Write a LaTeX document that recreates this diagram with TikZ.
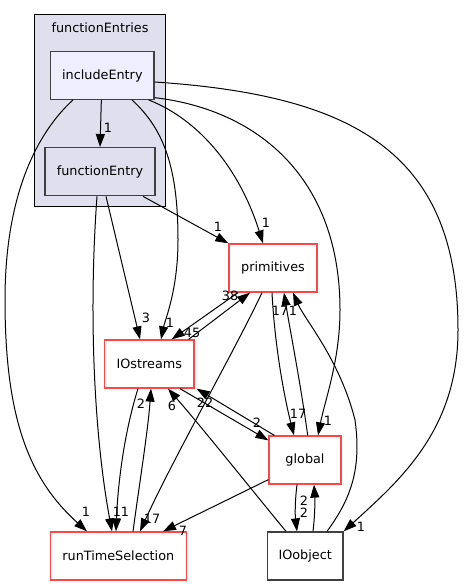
\documentclass[tikz,border=0pt]{standalone}
\usepackage{fontspec}
\setmainfont{DejaVu Sans}
\usetikzlibrary{arrows.meta}
\definecolor{doxred}{RGB}{255,70,70}
\definecolor{doxgrey}{RGB}{64,64,64}
\definecolor{clfill}{RGB}{223,223,237}
\definecolor{incfill}{RGB}{238,238,255}
\tikzset{
  every node/.style={font=\fontsize{12.8}{15}\selectfont, inner sep=0pt},
  dirbox/.style={draw=doxgrey, line width=1.3pt, minimum height=48pt},
  redbox/.style={draw=doxred, line width=1.3pt, fill=white, minimum height=48pt},
  edge/.style={draw=black, line width=1pt, -{Triangle[length=13pt,width=9pt]}},
  lbl/.style={font=\fontsize{12.8}{15}\selectfont}
}
\begin{document}
\begin{tikzpicture}[x=1pt,y=-1pt]
\useasboundingbox (0,0) rectangle (464,585);
% cluster
\node[draw=black, line width=1pt, fill=clfill, minimum width=131pt, minimum height=191.7pt] (cluster) at (99.8,110.85) {};
\node (clusterlabel) at (100,28) {functionEntries};
% nodes
\node[dirbox, fill=incfill, minimum width=103.3pt, minimum height=47.6pt] (includeEntry) at (102.35,75.5) {includeEntry};
\node[dirbox, fill=clfill, minimum width=110pt] (functionEntry) at (100,171.7) {functionEntry};
\node[redbox, minimum width=88pt] (primitives) at (273,268) {primitives};
\node[redbox, minimum width=89.3pt] (IOstreams) at (149.3,364) {IOstreams};
\node[redbox, minimum width=72pt] (global) at (305,460) {global};
\node[redbox, minimum width=136pt] (runTimeSelection) at (118.3,556) {runTimeSelection};
\node[dirbox, fill=white, minimum width=75.7pt] (IOobject) at (305.2,556) {IOobject};
% edges
\draw[edge] ([xshift=-1pt]includeEntry.south) -- (functionEntry.north);
\draw[edge] ([xshift=-29.35pt]includeEntry.south) .. controls (40,130) and (5,190) .. (5,300) .. controls (5,420) and (30,480) .. ([xshift=-31.3pt]runTimeSelection.north);
\draw[edge] ([xshift=29.65pt]includeEntry.south) .. controls (165,130) and (178,170) .. (178,240) .. controls (178,290) and (165,320) .. ([xshift=11.7pt]IOstreams.north);
\draw[edge] ([xshift=-6pt]includeEntry.south east) .. controls (200,120) and (240,170) .. ([xshift=-10pt]primitives.north);
\draw[edge] ([yshift=2.3pt]includeEntry.south east) .. controls (260,110) and (340,180) .. (340,310) .. controls (340,360) and (325,400) .. ([xshift=13pt]global.north);
\draw[edge] ([yshift=-6.5pt]includeEntry.east) .. controls (350,95) and (458,150) .. (458,330) .. controls (458,430) and (400,480) .. (IOobject.north east);
\draw[edge] ([xshift=6pt]functionEntry.south) -- ([xshift=-9.3pt]IOstreams.north);
\draw[edge] ([xshift=-3pt]functionEntry.south) .. controls (88,320) and (95,440) .. ([xshift=-6.3pt]runTimeSelection.north);
\draw[edge] ([xshift=43pt]functionEntry.south) -- (primitives.north west);
\draw[edge] ([xshift=-11.3pt]IOstreams.south) .. controls (125,430) and (118,480) .. ([xshift=-2.3pt]runTimeSelection.north);
\draw[edge] ([xshift=14.7pt]runTimeSelection.north) .. controls (140,480) and (148,430) .. ([xshift=1.7pt]IOstreams.south);
\draw[edge] ([xshift=-11pt]primitives.south) .. controls (235,350) and (175,455) .. ([xshift=21.7pt]runTimeSelection.north);
\draw[edge] ([xshift=-6pt]IOstreams.north east) -- ([xshift=-23pt]primitives.south);
\draw[edge] ([xshift=-35pt]primitives.south) -- ([xshift=22.4pt]IOstreams.north);
\draw[edge] ([xshift=-1pt]primitives.south) .. controls (275,350) and (285,400) .. ([xshift=-11pt]global.north);
\draw[edge] ([xshift=2.7pt]global.north) .. controls (300,380) and (290,330) .. ([xshift=11pt]primitives.south);
\draw[edge] ([xshift=21.8pt]IOobject.north) .. controls (350,500) and (362,470) .. (355,420) .. controls (340,360) and (305,320) .. ([xshift=20pt]primitives.south);
\draw[edge] ([xshift=30.7pt]IOstreams.south) -- ([yshift=-5pt]global.north west);
\draw[edge] ([xshift=6pt]global.north west) -- ([xshift=2pt]IOstreams.south east);
\draw[edge] ([xshift=-19.2pt]IOobject.north) .. controls (260,500) and (200,425) .. ([xshift=18.7pt]IOstreams.south);
\draw[edge] ([xshift=-8pt]global.south) .. controls (295,500) and (295,515) .. ([xshift=-8.2pt]IOobject.north);
\draw[edge] ([xshift=7.8pt]IOobject.north) .. controls (315,515) and (315,500) .. ([xshift=9pt]global.south);
\draw[edge] ([yshift=5pt]global.south west) -- ([xshift=44.7pt]runTimeSelection.north);
% labels
\node[lbl] (l1) at (108,128) {1};
\node[lbl] (l2) at (86,512) {1};
\node[lbl] (l3) at (170,323) {1};
\node[lbl] (l4) at (146,318) {3};
\node[lbl] (l5) at (117,512) {1};
\node[lbl] (l6) at (125,512) {1};
\node[lbl] (l7) at (141,404) {2};
\node[lbl] (l8) at (152,519) {17};
\node[lbl] (l9) at (218,227) {1};
\node[lbl] (l10) at (266,223) {1};
\node[lbl] (l11) at (328,421) {1};
\node[lbl] (l12) at (361,527) {1};
\node[lbl] (l13) at (230,296) {38};
\node[lbl] (l14) at (192,333) {45};
\node[lbl] (l15) at (298,414) {17};
\node[lbl] (l16) at (280,311) {17};
\node[lbl] (l17) at (293,311) {1};
\node[lbl] (l18) at (257,423) {2};
\node[lbl] (l19) at (205,403) {22};
\node[lbl] (l20) at (172,406) {6};
\node[lbl] (l21) at (304,501) {2};
\node[lbl] (l22) at (304,513) {2};
\node[lbl] (l23) at (183,531) {7};
\end{tikzpicture}
\end{document}
